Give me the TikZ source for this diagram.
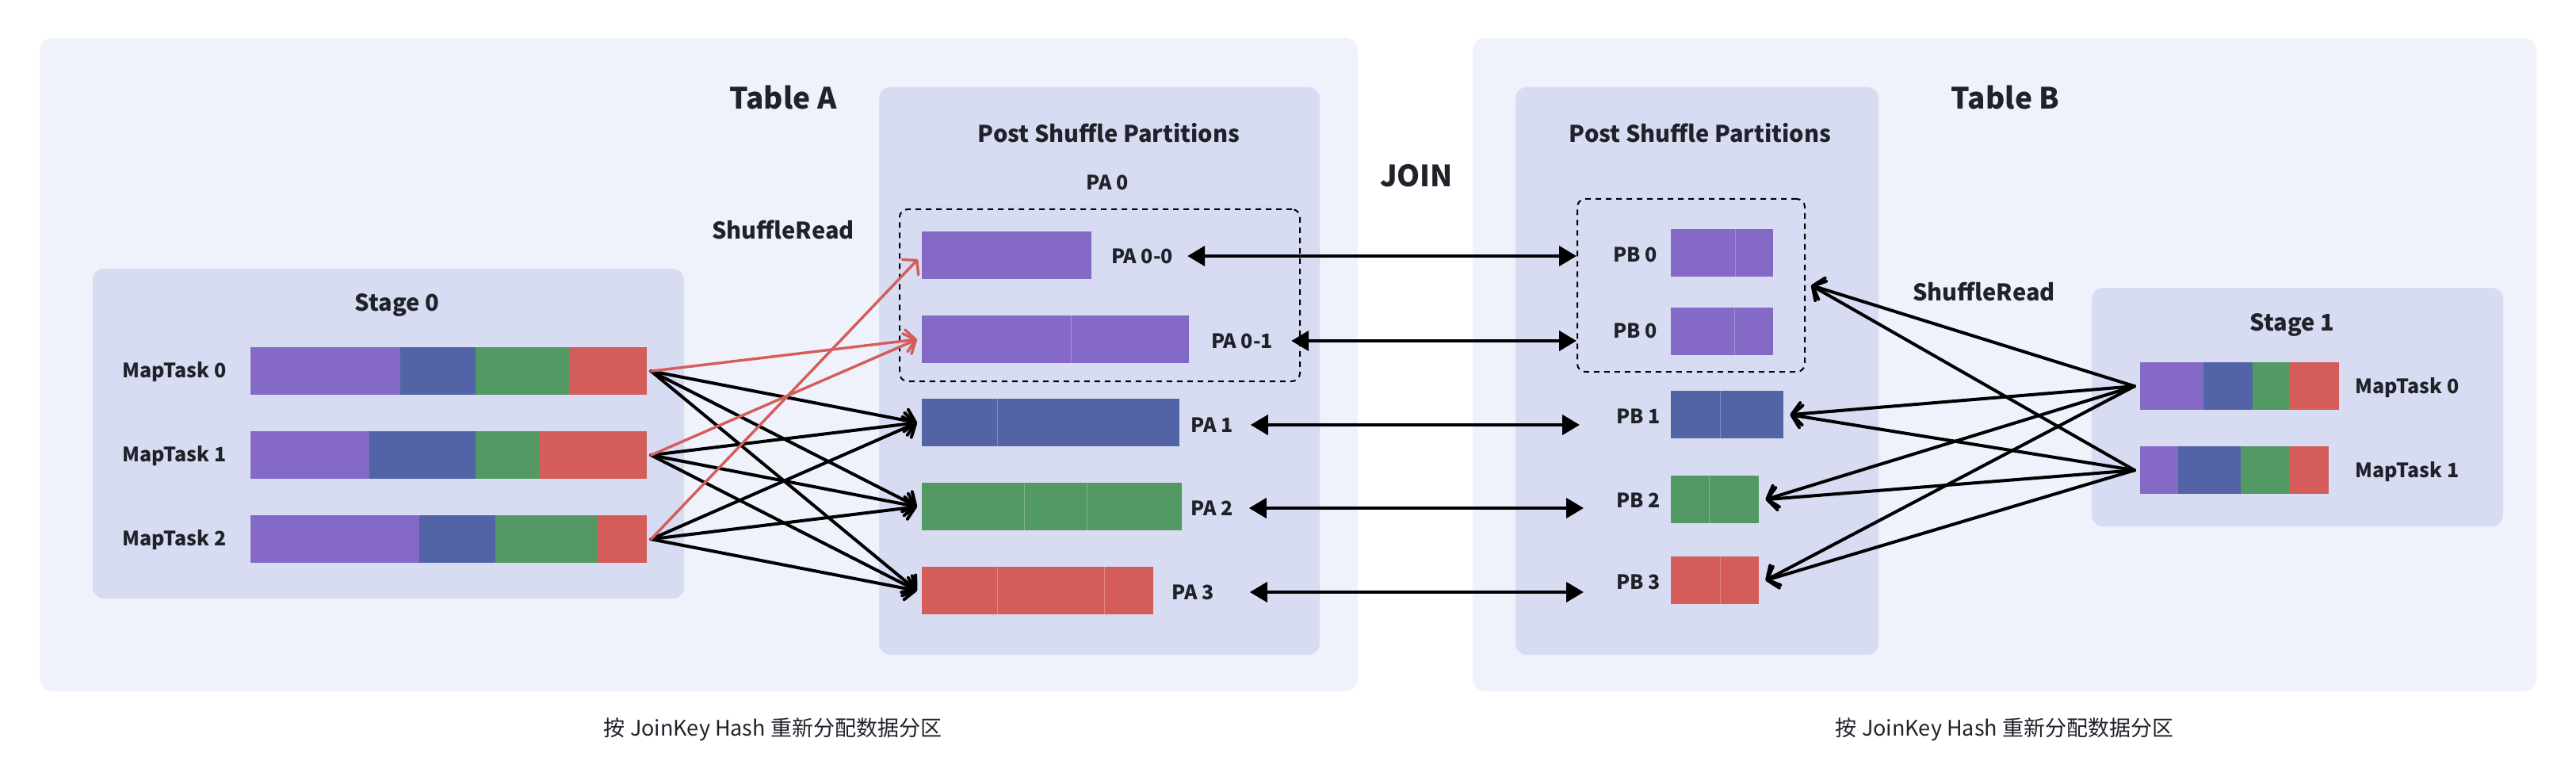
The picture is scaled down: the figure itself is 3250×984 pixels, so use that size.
\documentclass[tikz,border=0pt]{standalone}
\usepackage{fontspec}
\setmainfont{Noto Sans CJK SC}
\usetikzlibrary{arrows.meta}
\definecolor{cpu}{HTML}{8569C6}
\definecolor{cbl}{HTML}{5364A6}
\definecolor{cgr}{HTML}{539963}
\definecolor{crd}{HTML}{D45D59}
\definecolor{outerbg}{HTML}{EFF2FB}
\definecolor{innerbg}{HTML}{D7DCF3}
\definecolor{ink}{HTML}{1F2329}

\begin{document}
\begin{tikzpicture}[x=1pt, y=-1pt, line join=round, line cap=round,
    panel/.style={fill=outerbg, rounded corners=16pt},
    stagebox/.style={fill=innerbg, rounded corners=14pt},
    part/.style={draw, line cap=butt, dash pattern=on 7pt off 6pt, line width=2pt, rounded corners=10pt, inner sep=0pt, anchor=north west},
    title/.style={text=ink, font=\bfseries\fontsize{37}{44}\selectfont},
    head/.style={text=ink, font=\bfseries\fontsize{29}{35}\selectfont},
    lbl/.style={text=ink, inner sep=2pt, font=\bfseries\fontsize{25}{30}\selectfont},
    foot/.style={text=ink, font=\fontsize{27}{32}\selectfont},
    bar/.style={inner sep=0pt, minimum height=60pt, anchor=north west},
    seam/.style={white, opacity=.25, line width=1pt, line cap=butt},
    rd/.style={-{Straight Barb[length=12pt,width=28pt,round]}, line width=4pt},
    joinarr/.style={{Triangle[length=22pt,width=25pt]}-{Triangle[length=22pt,width=25pt]}, line width=4.2pt, line cap=butt}]
  \fill[white] (0,0) rectangle (3250,984);
  \useasboundingbox (0,0) rectangle (3250,984);
  \fill[panel] (50,48) rectangle (1713,872);
  \fill[panel] (1858,48) rectangle (3200,872);
  \fill[stagebox] (117,339) rectangle (863,755);
  \fill[stagebox] (1109,110) rectangle (1665,826);
  \fill[stagebox] (1912,110) rectangle (2370,826);
  \fill[stagebox] (2639,363) rectangle (3158,664);

  \node[title] (ta) at (988,123) {Table A};
  \node[title] (tb) at (2530,123) {Table B};
  \node[title] (jo) at (1787,222) {JOIN};
  \node[head] (psa) at (1399,168) {Post Shuffle Partitions};
  \node[head] (psb) at (2145,168) {Post Shuffle Partitions};
  \node[head] (s0) at (501,385) {Stage 0};
  \node[head] (s1) at (2892,410) {Stage 1};
  \node[head] (sra) at (988,290) {ShuffleRead};
  \node[head] (srb) at (2503,368) {ShuffleRead};
  \node[lbl] (pa0) at (1397,230) {PA 0};
  \node[foot] (ca) at (975,920) {按 JoinKey Hash 重新分配数据分区};
  \node[foot] (cb) at (2529,920) {按 JoinKey Hash 重新分配数据分区};

  \node[part, minimum width=505pt, minimum height=217pt] (ga) at (1134,263) {};
  \node[part, minimum width=287pt, minimum height=218pt] (gb) at (1989,250) {};

  \foreach \i/\y/\a/\b/\c in {0/438/505/600/719, 1/544/466/600/680, 2/650/529/625/754} {
    \fill[cpu] (316,\y) rectangle (\a,\y+60);
    \fill[cbl] (\a,\y) rectangle (\b,\y+60);
    \fill[cgr] (\b,\y) rectangle (\c,\y+60);
    \fill[crd] (\c,\y) rectangle (816,\y+60);
    \node[bar, minimum width=500pt] (m\i) at (316,\y) {};
    \node[lbl] (lm\i) at (220,\y+31) {MapTask \i};
  }
  \foreach \i/\y/\a/\b/\c/\e in {0/457/2780/2842/2889/2951, 1/563/2748/2827/2889/2938} {
    \fill[cpu] (2700,\y) rectangle (\a,\y+60);
    \fill[cbl] (\a,\y) rectangle (\b,\y+60);
    \fill[cgr] (\b,\y) rectangle (\c,\y+60);
    \fill[crd] (\c,\y) rectangle (\e,\y+60);
    \node[bar, minimum width=\e pt-2700pt] (t\i) at (2700,\y) {};
    \node[lbl] (lt\i) at (3037,\y+32) {MapTask \i};
  }

  \foreach \n/\c/\x/\y/\w in {pa00/cpu/1163/292/214pt, pa01/cpu/1163/398/337pt, pa1/cbl/1163/503/325pt,
      pa2/cgr/1163/609/328pt, pa3/crd/1163/715/292pt, pb0a/cpu/2108/289/129pt, pb0b/cpu/2108/388/129pt,
      pb1/cbl/2108/493/142pt, pb2/cgr/2108/600/111pt, pb3/crd/2108/702/111pt}
    \node[bar, fill=\c, minimum width=\w] (\n) at (\x,\y) {};
  \foreach \x/\y in {1351/398, 1258/503, 1292/609, 1371/609, 1258/715, 1393/715,
      2189/289, 2188/388, 2170/493, 2156/600, 2170/702}
    \draw[seam] (\x,\y) -- ++(0,60);
  \foreach \n/\t/\x/\y in {lpa00/PA 0-0/1441/323, lpa01/PA 0-1/1567/430, lpa1/PA 1/1529/536,
      lpa2/PA 2/1529/641, lpa3/PA 3/1505/747, lpb0a/PB 0/2063/321, lpb0b/PB 0/2063/417,
      lpb1/PB 1/2067/525, lpb2/PB 2/2067/631, lpb3/PB 3/2067/734}
    \node[lbl] (\n) at (\x,\y) {\t};

  \foreach \s in {0,1,2}
    \foreach \t in {pa1,pa2,pa3}
      \draw[rd] ([xshift=5pt]m\s.east) -- ([xshift=-6pt]\t.west);
  \draw[rd, crd, line width=3.4pt] ([xshift=5pt]m0.east) -- ([xshift=-6pt]pa01.west);
  \draw[rd, crd, line width=3.4pt] ([xshift=5pt]m1.east) -- ([xshift=-6pt]pa01.west);
  \draw[rd, crd, line width=3.4pt] ([xshift=5pt]m2.east) -- ([shift={(-5,5)}]pa00.west);

  \foreach \s in {t0,t1} {
    \draw[rd] ([xshift=-7pt]\s.west) -- ([xshift=7pt]gb.east);
    \foreach \t in {pb1,pb2,pb3}
      \draw[rd] ([xshift=-7pt]\s.west) -- ([xshift=8pt]\t.east);
  }

  \draw[joinarr] ([xshift=16pt]lpa00.east) -- (lpa00.east -| gb.west);
  \draw[joinarr] ([xshift=21pt]lpa01.east) -- (lpa01.east -| gb.west);
  \draw[joinarr] ([xshift=20pt]lpa1.east) -- ([xshift=4pt]lpa1.east -| gb.west);
  \draw[joinarr] ([xshift=18pt]lpa2.east) -- ([xshift=9pt]lpa2.east -| gb.west);
  \draw[joinarr] ([xshift=43pt]lpa3.east) -- ([xshift=9pt]lpa3.east -| gb.west);
\end{tikzpicture}
\end{document}
